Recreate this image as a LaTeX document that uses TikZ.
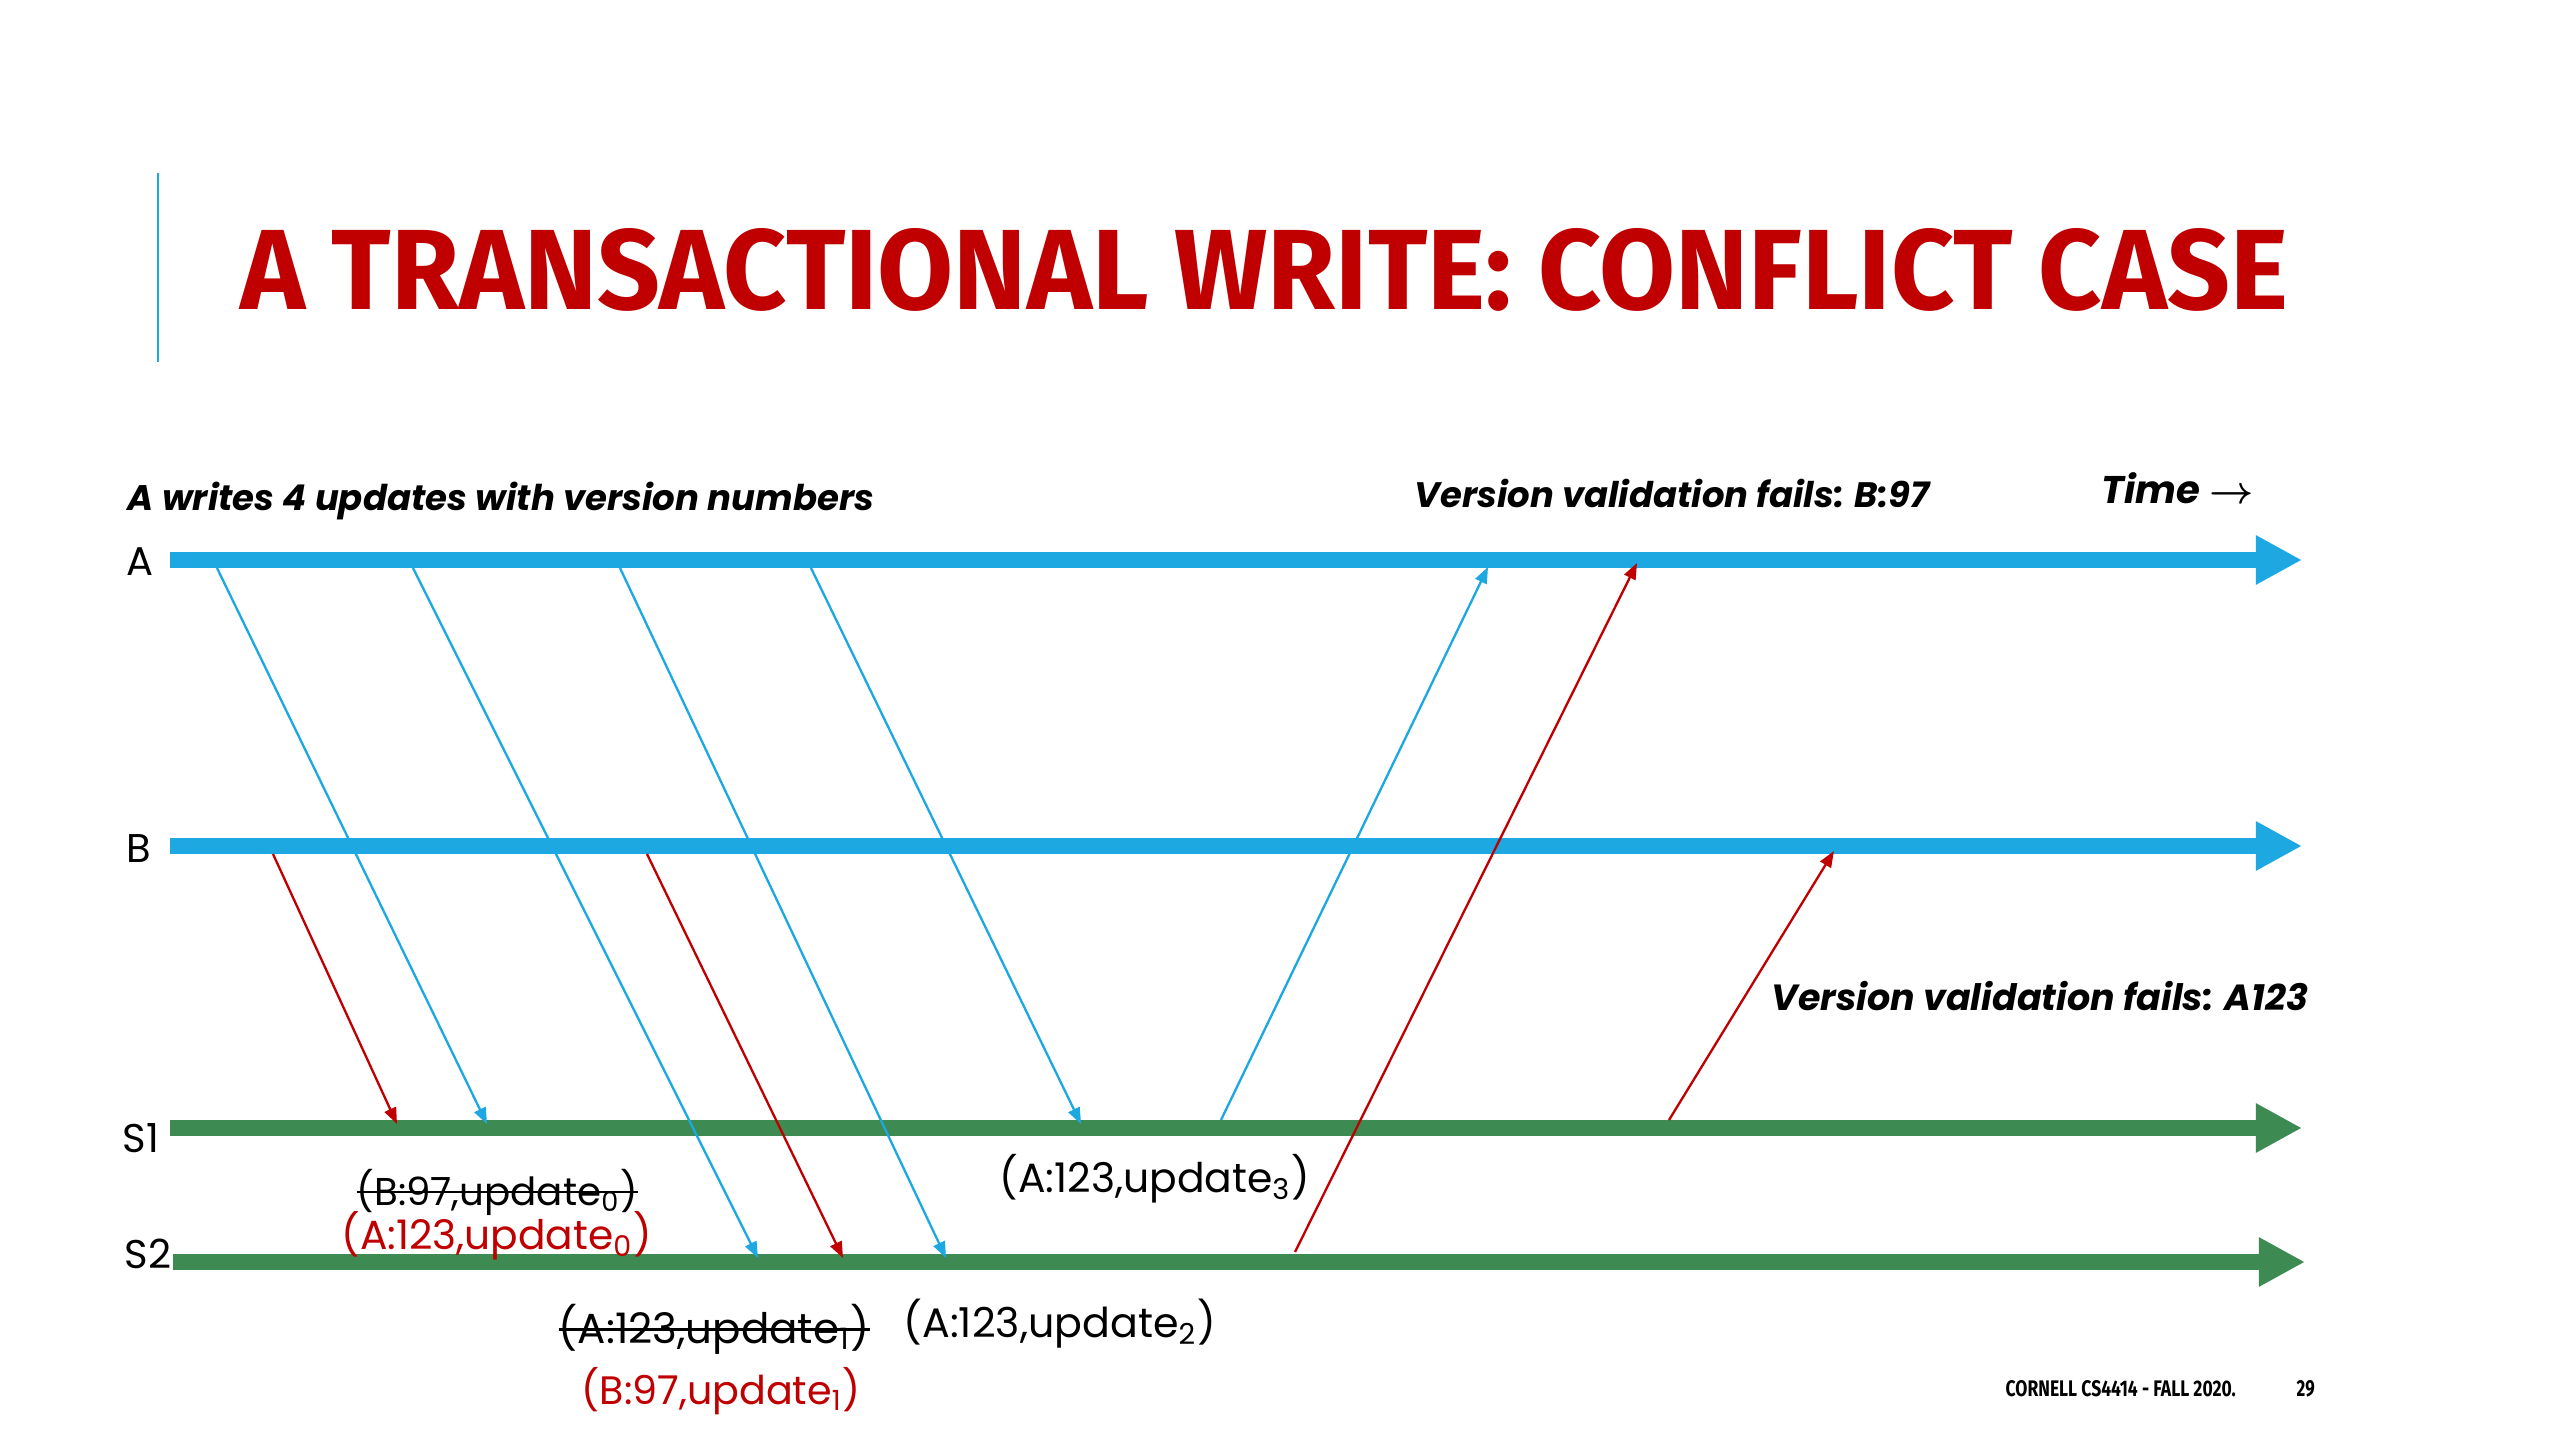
\documentclass[tikz,border=0pt]{standalone}
\usepackage{fontspec}
\setmainfont{Poppins}
\newfontfamily\titlefont{Fira Sans}
\usetikzlibrary{arrows.meta}
\definecolor{tred}{HTML}{C00000}
\definecolor{tblue}{HTML}{1DA8E1}
\definecolor{tgreen}{HTML}{3D8A53}
\newlength\pxu \setlength\pxu{0.28453pt}
\newcommand\fitw[2]{\resizebox{#1\pxu}{!}{#2}}
\newcommand\fitwh[3]{\resizebox{#1\pxu}{#2\pxu}{#3}}
\newcommand\strk[1]{\setbox0\hbox{#1}\rlap{\raisebox{0.30em}{\rule{\wd0}{0.06em}}}\box0}
\begin{document}
\begin{tikzpicture}[x=0.01cm,y=-0.01cm,
  timeline/.style={line width=4.55pt, -{Triangle[length=13.1pt,width=13.1pt]}},
  msg/.style={line width=0.66pt, -{Triangle[length=4.6pt,width=3.5pt]}},
  lbl/.style={inner sep=0pt, anchor=west},
  axlbl/.style={inner sep=0pt, anchor=west, font=\fontsize{11.4pt}{13.7pt}\selectfont},
]
\useasboundingbox (0,0) rectangle (2560,1440);
\fill[white] (0,0) rectangle (2560,1440);

% title
\draw[tblue, line width=0.85pt] (158,173) -- (158,362);
\node[inner sep=0pt, anchor=base west, text=tred] (title) at (240,310)
  {\fitwh{2046}{81}{\titlefont\bfseries A TRANSACTIONAL WRITE: CONFLICT CASE}};

% headings
\node[lbl] (hdA) at (127,501) {\fitw{746}{\bfseries\itshape A writes 4 updates with version numbers}};
\node[lbl] (hdB) at (1414,493) {\fitw{514}{\bfseries\itshape Version validation fails: B:97}};
\node[lbl] (time) at (2101,488) {\fitw{152}{\bfseries\itshape Time \mbox{\boldmath$\rightarrow$}}};
\node[lbl] (hdS) at (1771,996) {\fitw{536}{\bfseries\itshape Version validation fails: A123}};

% timeline labels
\node[axlbl] (lA) at (126,562) {A};
\node[axlbl] (lB) at (126,849) {B};
\node[axlbl] (lS1) at (122,1138) {S1};
\node[axlbl] (lS2) at (124,1254) {S2};

% timelines
\coordinate (A0) at (170,560);  \coordinate (A1) at (2302,560);
\coordinate (B0) at (170,846);  \coordinate (B1) at (2302,846);
\coordinate (S10) at (170,1128); \coordinate (S11) at (2302,1128);
\coordinate (S20) at (173,1262); \coordinate (S21) at (2305,1262);
\draw[timeline, tblue] (A0) -- (A1);
\draw[timeline, tblue] (B0) -- (B1);
\draw[timeline, tgreen] (S10) -- (S11);
\draw[timeline, tgreen] (S20) -- (S21);

% message end points
\coordinate (a1) at (217,568);  \coordinate (s1a) at (487,1124);
\coordinate (a2) at (413,568);  \coordinate (s2a) at (758,1258);
\coordinate (a3) at (620,568);  \coordinate (s2b) at (946,1258);
\coordinate (a4) at (811,568);  \coordinate (s1b) at (1081,1124);
\coordinate (s1c) at (1221,1120); \coordinate (a5) at (1488,567);
\coordinate (b1) at (273,854);  \coordinate (s1d) at (397,1124);
\coordinate (b2) at (647,854);  \coordinate (s2c) at (843,1258);
\coordinate (s2d) at (1295,1252); \coordinate (a6) at (1637,563);
\coordinate (s1e) at (1669,1120); \coordinate (b3) at (1834,851);

\draw[msg, tblue] (a1) -- (s1a);
\draw[msg, tblue] (a2) -- (s2a);
\draw[msg, tblue] (a3) -- (s2b);
\draw[msg, tblue] (a4) -- (s1b);
\draw[msg, tblue] (s1c) -- (a5);
\draw[msg, tred] (b1) -- (s1d);
\draw[msg, tred] (b2) -- (s2c);
\draw[msg, tred] (s2d) -- (a6);
\draw[msg, tred] (s1e) -- (b3);

% value labels
\node[lbl] (v1) at (356,1192) {\fitw{281}{\strk{(B:97,update\textsubscript{0})}}};
\node[lbl, text=tred] (v2) at (341,1236) {\fitw{310}{(A:123,update\textsubscript{0})}};
\node[lbl] (v3) at (999,1179) {\fitw{310}{(A:123,update\textsubscript{3})}};
\node[lbl] (v4) at (558,1329) {\fitw{311}{\strk{(A:123,update\textsubscript{1})}}};
\node[lbl] (v5) at (903,1324) {\fitw{312}{(A:123,update\textsubscript{2})}};
\node[lbl, text=tred] (v6) at (581,1391) {\fitw{279}{(B:97,update\textsubscript{1})}};

% footer
\node[inner sep=0pt, anchor=base west] (foot) at (2005,1396) {\fitwh{230}{16}{\titlefont\bfseries CORNELL CS4414 - FALL 2020.}};
\node[inner sep=0pt, anchor=base west] (page) at (2296,1396) {\fitwh{18}{16}{\titlefont\bfseries 29}};
\end{tikzpicture}
\end{document}
